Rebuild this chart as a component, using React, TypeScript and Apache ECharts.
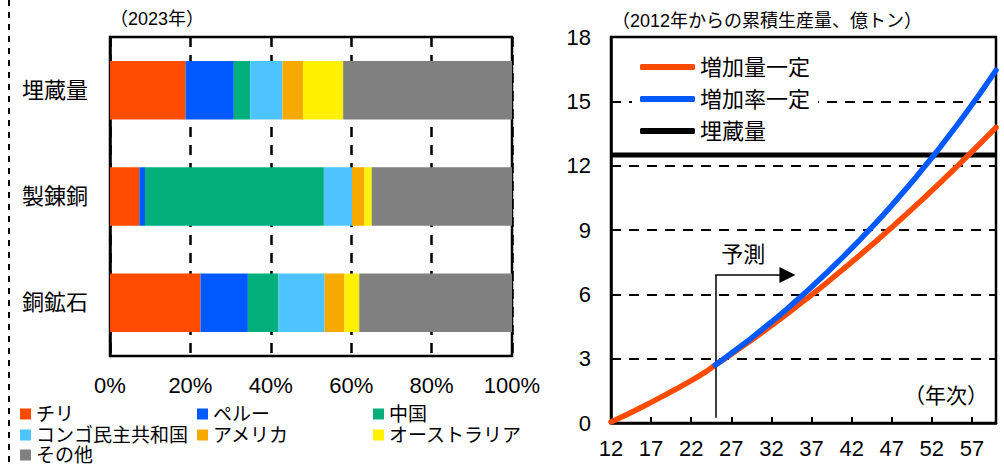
import React, { useEffect, useRef } from 'react';
import * as echarts from 'echarts';

// ---- Left chart: shares (2023, %) ----
const barCategories = ['埋蔵量', '製錬銅', '銅鉱石'];
const chile = [18.8, 7.3, 22.5];
const peru = [12.0, 1.4, 11.8];
const china = [4.1, 44.5, 7.6];
const congo = [8.0, 7.0, 11.5];
const usa = [5.1, 3.1, 4.9];
const australia = [10.0, 1.8, 3.7];
const others = [42.0, 34.9, 38.0];
const shareTicks = [0, 20, 40, 60, 80, 100];

// ---- Right chart: cumulative production since 2012 (億トン) ----
const years = [
  '12', '13', '14', '15', '16', '17', '18', '19', '20', '21', '22', '23', '24',
  '25', '26', '27', '28', '29', '30', '31', '32', '33', '34', '35', '36', '37',
  '38', '39', '40', '41', '42', '43', '44', '45', '46', '47', '48', '49', '50',
  '51', '52', '53', '54', '55', '56', '57', '58', '59', '60',
];
const constantIncrease = [
  0.05, 0.22, 0.40, 0.58, 0.77, 0.96, 1.16, 1.36, 1.56, 1.77, 1.98, 2.20, 2.43,
  2.70, 2.95, 3.21, 3.47, 3.73, 4.00, 4.27, 4.54, 4.82, 5.10, 5.39, 5.68, 5.97,
  6.27, 6.57, 6.88, 7.19, 7.50, 7.82, 8.14, 8.46, 8.79, 9.12, 9.46, 9.79, 10.14,
  10.48, 10.84, 11.19, 11.55, 11.91, 12.28, 12.65, 13.02, 13.40, 13.78,
];
const constantRate = [
  null, null, null, null, null, null, null, null, null, null, null, null, null,
  2.70, 2.97, 3.25, 3.53, 3.81, 4.11, 4.41, 4.71, 5.02, 5.34, 5.67, 6.00, 6.34,
  6.69, 7.04, 7.40, 7.77, 8.15, 8.53, 8.92, 9.32, 9.73, 10.15, 10.58, 11.01, 11.45,
  11.91, 12.37, 12.84, 13.33, 13.82, 14.32, 14.84, 15.36, 15.90, 16.45,
];
const reserves = years.map(() => 12.5);
const forecastStart = '25';
const forecastArrowEnd = '34';

const FONT = "'Liberation Sans', 'Noto Sans CJK JP', sans-serif";

const barColors: Record<string, string> = {
  'チリ': '#FF4B00',
  'ペルー': '#005AFF',
  '中国': '#03AF7A',
  'コンゴ民主共和国': '#4DC4FF',
  'アメリカ': '#F6AA00',
  'オーストラリア': '#FFF100',
  'その他': '#808080',
};
const barData: [string, number[]][] = [
  ['チリ', chile],
  ['ペルー', peru],
  ['中国', china],
  ['コンゴ民主共和国', congo],
  ['アメリカ', usa],
  ['オーストラリア', australia],
  ['その他', others],
];
// legend grid: [name, column, row]
const barLegendLayout: [string, number, number][] = [
  ['チリ', 0, 0],
  ['ペルー', 1, 0],
  ['中国', 2, 0],
  ['コンゴ民主共和国', 0, 1],
  ['アメリカ', 1, 1],
  ['オーストラリア', 2, 1],
  ['その他', 0, 2],
];
const legendColumnsX = [20, 197, 373];
const legendRowsY = [404, 425, 445];

export default function App() {
  const ref = useRef<HTMLDivElement>(null);
  useEffect(() => {
    if (!ref.current) return;
    const chart = echarts.init(ref.current, null, { renderer: 'svg' });

    const barLegends = barLegendLayout.map(([name, c, r]) => ({
      orient: 'horizontal',
      left: legendColumnsX[c],
      top: legendRowsY[r],
      icon: 'rect',
      itemWidth: 11,
      itemHeight: 11,
      padding: 0,
      selectedMode: false,
      data: [name],
      textStyle: { fontSize: 19, color: '#000', fontFamily: FONT, lineHeight: 20 },
    }));

    const option: any = {
      animation: false,
      backgroundColor: '#fff',
      textStyle: { fontFamily: FONT },
      grid: [
        { left: 110, top: 37, width: 402, height: 319, show: true, borderColor: '#000', borderWidth: 2.5, backgroundColor: 'transparent' },
        { left: 611, top: 37, width: 385, height: 386, show: true, borderColor: '#000', borderWidth: 2.5, backgroundColor: 'transparent' },
      ],
      xAxis: [
        {
          gridIndex: 0,
          type: 'value',
          min: shareTicks[0],
          max: shareTicks[shareTicks.length - 1],
          interval: 20,
          axisLine: { show: false },
          axisTick: { show: false },
          axisLabel: { formatter: '{value}%', fontSize: 22, color: '#000', margin: 18, fontFamily: FONT },
          splitLine: { show: true, lineStyle: { color: '#000', type: [10, 8], width: 2.5 } },
        },
        {
          gridIndex: 1,
          type: 'category',
          data: years,
          boundaryGap: false,
          axisLine: { show: true, lineStyle: { color: '#000', width: 2.5 } },
          axisTick: { show: true, inside: true, interval: 4, length: 6, lineStyle: { color: '#000', width: 2 } },
          axisLabel: { interval: 4, fontSize: 22, color: '#000', margin: 14, fontFamily: FONT },
          splitLine: { show: false },
        },
      ],
      yAxis: [
        {
          gridIndex: 0,
          type: 'category',
          data: barCategories,
          inverse: true,
          axisLine: { show: true, lineStyle: { color: '#000', width: 2.5 } },
          axisTick: { show: false },
          axisLabel: { fontSize: 22, color: '#000', margin: 22, fontFamily: FONT },
        },
        {
          gridIndex: 1,
          type: 'value',
          min: 0,
          max: 18,
          interval: 3,
          axisLine: { show: true, lineStyle: { color: '#000', width: 2.5 } },
          axisTick: { show: false },
          axisLabel: { fontSize: 22, color: '#000', margin: 20, fontFamily: FONT },
          splitLine: { show: true, lineStyle: { color: '#000', type: [10, 8], width: 2 } },
        },
      ],
      legend: [
        ...barLegends,
        {
          orient: 'vertical',
          left: 632,
          top: 50,
          icon: 'roundRect',
          itemWidth: 55,
          itemHeight: 6,
          itemGap: 6,
          padding: [4, 8],
          backgroundColor: '#fff',
          selectedMode: false,
          data: ['増加量一定', '増加率一定', '埋蔵量 '],
          textStyle: { fontSize: 22, color: '#000', fontFamily: FONT, lineHeight: 26 },
        },
      ],
      series: [
        ...barData.map(([name, values]) => ({
          name,
          type: 'bar',
          stack: 'share',
          xAxisIndex: 0,
          yAxisIndex: 0,
          barCategoryGap: '45%',
          itemStyle: { color: barColors[name] },
          data: values,
        })),
        {
          name: '埋蔵量 ',
          type: 'line',
          xAxisIndex: 1,
          yAxisIndex: 1,
          symbol: 'none',
          data: reserves,
          lineStyle: { color: '#000', width: 5 },
          itemStyle: { color: '#000' },
          z: 3,
        },
        {
          name: '増加量一定',
          type: 'line',
          xAxisIndex: 1,
          yAxisIndex: 1,
          symbol: 'none',
          smooth: false,
          data: constantIncrease,
          lineStyle: { color: '#FF4B00', width: 5.5, cap: 'round' },
          itemStyle: { color: '#FF4B00' },
          z: 4,
          markLine: {
            silent: true,
            symbol: ['none', 'none'],
            symbolSize: 14,
            lineStyle: { color: '#000', type: 'solid', width: 1.5 },
            label: { show: false },
            data: [
              [
                { coord: [forecastStart, 0.25], symbol: 'none' },
                { coord: [forecastStart, 6.9], symbol: 'none' },
              ],
              [
                {
                  coord: [forecastStart, 6.9],
                  symbol: 'none',
                  label: {
                    show: true,
                    position: 'middle',
                    formatter: '予測',
                    fontSize: 22,
                    color: '#000',
                    fontFamily: FONT,
                    distance: 10,
                    offset: [-8, 0],
                  },
                },
                { coord: [forecastArrowEnd, 6.9], symbol: 'triangle', symbolRotate: -90, symbolSize: [16, 16] },
              ],
            ],
          },
        },
        {
          name: '増加率一定',
          type: 'line',
          xAxisIndex: 1,
          yAxisIndex: 1,
          symbol: 'none',
          data: constantRate,
          lineStyle: { color: '#005AFF', width: 5.5, cap: 'round' },
          itemStyle: { color: '#005AFF' },
          z: 5,
        },
      ],
      graphic: [
        {
          type: 'line',
          shape: { x1: 9, y1: 0, x2: 9, y2: 466 },
          style: { stroke: '#000', lineWidth: 2, lineDash: [6, 6] },
        },
        {
          type: 'text',
          left: 110,
          top: 10,
          style: { text: '（2023年）', fontSize: 18, fill: '#000', fontFamily: FONT },
        },
        {
          type: 'text',
          left: 612,
          top: 12,
          style: { text: '（2012年からの累積生産量、億トン）', fontSize: 18, fill: '#000', fontFamily: FONT },
        },
        {
          type: 'text',
          right: 16,
          top: 385,
          style: { text: '（年次）', fontSize: 21, fill: '#000', fontFamily: FONT },
        },
      ],
    };
    chart.setOption(option);
    return () => chart.dispose();
  }, []);
  return (
    <div
      ref={ref}
      style={{ position: 'fixed', left: 0, top: 0, width: 1004, height: 466, background: '#fff' }}
    />
  );
}
